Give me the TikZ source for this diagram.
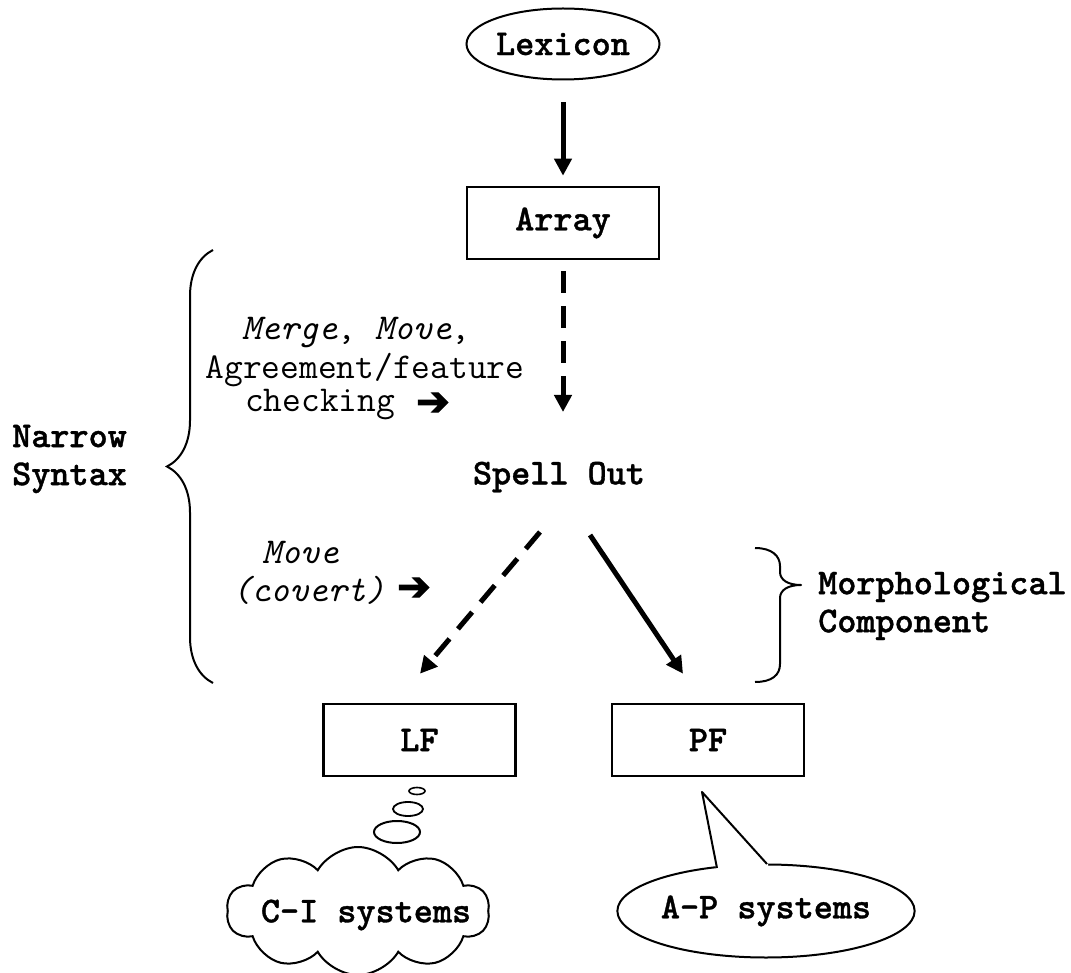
\documentclass[tikz,border=0pt]{standalone}
\usepackage{fontspec}
\newfontfamily\symfont[FakeBold=3]{DejaVu Sans}
\newfontfamily\boldmono[FakeBold=1]{lmmonolt10-bold.otf}
\usetikzlibrary{arrows.meta,shapes.geometric,shapes.symbols,decorations.pathreplacing}
\begin{document}
\begin{tikzpicture}[x=1pt,y=-1pt,
  every node/.style={font=\ttfamily\fontsize{36.4}{37}\selectfont, inner sep=0pt},
  lbl/.style={font=\boldmono\fontsize{36.4}{38}\selectfont},
  stagebox/.style={lbl, draw, line width=2.6pt, minimum width=192pt, minimum height=72pt},
  oval/.style={lbl, draw, ellipse, line width=2pt},
  conn/.style={line width=5pt, -{Triangle[length=17pt,width=17pt]}},
  dconn/.style={conn, dash pattern=on 22pt off 13pt},
  brc/.style={decorate, decoration={brace, amplitude=46pt}, line width=2pt},
  thin/.style={line width=2pt, line join=round},
  arrowglyph/.style={font=\symfont\fontsize{40}{40}\selectfont},
]
\useasboundingbox (0,0) rectangle (1071,973);

% main stages
\node[oval, minimum width=193pt, minimum height=71pt] (lex) at (563,44) {Lexicon};
\node[stagebox] (array) at (563,223) {Array};
\node[lbl] (spell) at (559,477) {Spell Out};
\node[stagebox] (lf) at (419.5,740) {LF};
\node[stagebox] (pf) at (708,740) {PF};

% connectors
\draw[conn] ([yshift=-22pt]lex.south) -- ([yshift=10pt]array.north);
\draw[dconn] ([yshift=-11pt]array.south) -- ([shift={(4,-65)}]spell.center);
\draw[dconn] ([shift={(-19,55)}]spell.center) -- ([shift={(0.5,-29)}]lf.north);
\draw[conn] ([shift={(31,58)}]spell.center) -- ([shift={(-25,-29)}]pf.north);

% annotations
\node (m1) at (356,333) {\textit{Merge}, \textit{Move},};
\node (m2) at (365,370) {Agreement/feature};
\node[anchor=west] (m3) at (245,405) {checking};
\node[arrowglyph] (m3a) at (433,404) {➔};
\node[anchor=west] (v1) at (262,552) {\textit{Move}};
\node[anchor=west] (v2) at (232,590) {\textit{(covert)}};
\node[arrowglyph] (v2a) at (414,589) {➔};

% braces
\draw[brc] (213,683) -- (213,250);
\node[lbl, align=left, anchor=west] (ns) at (12,459) {Narrow\\Syntax};
\draw[thin] (755,548) .. controls (772,548) and (780,556) .. (780,566)
  -- (780,572) .. controls (780,580) and (788,585) .. (801,585)
  .. controls (788,585) and (780,590) .. (780,598)
  -- (780,664) .. controls (780,675) and (772,682) .. (755,682);
\node[lbl, align=left, anchor=west] (mc) at (818,606) {Morphological\\Component};

% thought bubble
\node[draw, ellipse, line width=1.6pt, minimum width=16pt, minimum height=7pt] (b1) at (417,791) {};
\node[draw, ellipse, line width=1.8pt, minimum width=30pt, minimum height=14pt] (b2) at (408,809) {};
\node[draw, ellipse, line width=2pt, minimum width=46pt, minimum height=22pt] (b3) at (397,832) {};
\node[draw, cloud, cloud puffs=10, cloud puff arc=120, aspect=2, line width=2pt,
      minimum width=263pt, minimum height=128pt] (ci) at (358,911) {};
\node[lbl] (citext) at (366,915) {C-I systems};

% speech callout
\node[oval, minimum width=262pt, minimum height=93pt] (ap) at (766,911) {A-P systems};
\coordinate (aptip) at (702,792);
\fill[white] (716,868) -- (aptip) -- (768,864) -- (768,870) -- (716,874) -- cycle;
\draw[thin] (717,868) -- (aptip) -- (767,864);
\end{tikzpicture}
\end{document}
